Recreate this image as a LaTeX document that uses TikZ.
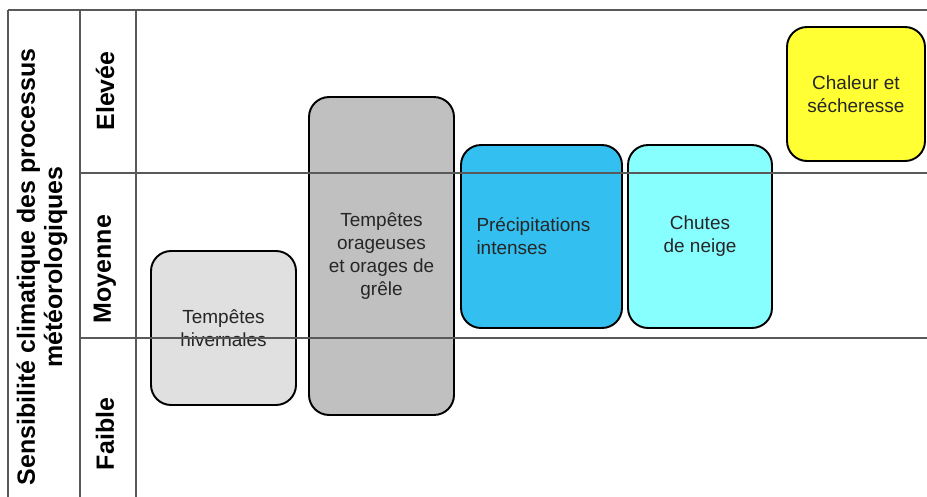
\documentclass[tikz,border=0pt]{standalone}
\usepackage{fontspec}
\setmainfont{Liberation Sans}
\usepackage{tikz}

\definecolor{grisclair}{HTML}{E0E0E0}
\definecolor{grisfonce}{HTML}{C0C0C0}
\definecolor{bleu}{HTML}{33C0F0}
\definecolor{cyanclair}{HTML}{88FFFF}
\definecolor{jaune}{HTML}{FFFF33}

\begin{document}
\begin{tikzpicture}[x=0.02cm,y=-0.02cm,
		box/.style={draw,line width=1.1pt,rounded corners=0.4cm,align=center,inner sep=0pt,
			font=\fontsize{10.8}{13}\selectfont,text=black!85},
		niveau/.style={rotate=90,font=\fontsize{14.2}{15.5}\selectfont\bfseries},
		trait/.style={draw=black!65,line width=0.7pt}]
		\useasboundingbox (0,0) rectangle (927,497);
		
		% processus
		\node[box,fill=grisclair,minimum width=2.9cm,minimum height=3.08cm] (hiver) at (223.5,328) {Tempêtes\\hivernales};
		\node[box,fill=grisfonce,minimum width=2.9cm,minimum height=6.36cm] (orage) at (381.5,256) {Tempêtes\\orageuses\\et orages de\\grêle};
		\node[box,fill=bleu,align=left,text width=2.6cm,minimum width=3.22cm,minimum height=3.66cm] (precip) at (541.5,236.5) {Précipitations\\intenses};
		\node[box,fill=cyanclair,minimum width=2.88cm,minimum height=3.66cm] (neige) at (700,236.5) {Chutes\\de neige};
		\node[box,fill=jaune,minimum width=2.76cm,minimum height=2.68cm] (chaleur) at (856,94) {Chaleur et\\sécheresse};
		
		% grille
		\draw[trait] (8,10) -- (927,10);
		\draw[trait] (8,10) -- (8,497);
		\draw[trait] (80,10) -- (80,497);
		\draw[trait] (136,10) -- (136,497);
		\draw[trait] (80,173) -- (927,173);
		\draw[trait] (80,338) -- (927,338);
		
		% axe
		\node[niveau,align=center] (titre) at (42,267) {Sensibilité climatique des processus\\météorologiques};
		\node[niveau] (elevee) at (105,91) {Elevée};
		\node[niveau] (moyenne) at (105,269) {Moyenne};
		\node[niveau] (faible) at (105,434) {Faible};
\end{tikzpicture}
\end{document}
